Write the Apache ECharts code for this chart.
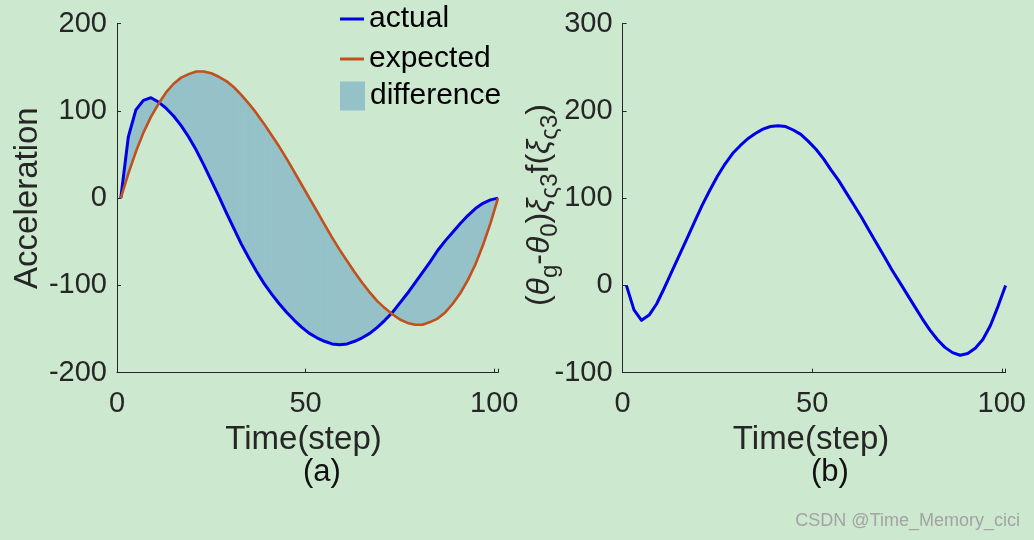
<!DOCTYPE html>
<html>
<head>
<meta charset="utf-8">
<script src="https://cdn.jsdelivr.net/npm/echarts@6/dist/echarts.min.js"></script>
<style>
html,body{margin:0;padding:0;background:#cce8cf;}
#main{width:1034px;height:540px;}
</style>
</head>
<body>
<div id="main"></div>
<script>
// ---- data ----
const steps = [1,3,5,7,9,11,13,15,17,19,21,23,25,27,29,31,33,35,37,39,41,43,45,47,49,51,53,55,57,59,61,63,65,67,69,71,73,75,77,79,81,83,85,87,89,91,93,95,97,99,101];
const actual = [0,70,101,112,115,110,103,94,83,70,55,38,20,2,-17,-35,-53,-69,-84,-98,-110,-121,-131,-140,-148,-155,-160,-164,-167,-168,-167,-164,-160,-155,-148,-140,-131,-120,-109,-97,-85,-73,-60,-49,-39,-29,-20,-12,-6,-2,0];
const expected = [0,28,53,75,93,108,121,131,138,142,145,145,143,139,134,127,118,108,97,85,72,59,45,30,15,0,-15,-30,-45,-59,-72,-85,-97,-108,-118,-126,-133,-139,-143,-145,-145,-142,-138,-131,-121,-109,-94,-76,-54,-29,0];
const termB = [0,-28,-40,-34,-21,-3,16,35,54,73,92,109,125,139,151,160,168,174,179,182,183,182,178,173,165,156,145,132,120,106,92,78,63,48,33,18,4,-10,-24,-38,-51,-62,-71,-77,-80,-78,-72,-62,-46,-24,0];
const xTicksA = [0,50,100];
const yTicksA = [-200,-100,0,100,200];
const yTicksB = [-100,0,100,200,300];

const FONT = "'Liberation Sans', Arial, Helvetica, sans-serif";
const AX = '#262626';
const FILL = '#95c1c8';

const pairs = (ys) => steps.map((x, i) => [x, ys[i]]);
// one quad per step interval between the two curves (built from the arrays above)
const bandQuads = steps.slice(0, -1).map((x, i) =>
  [x, steps[i + 1], actual[i], actual[i + 1], expected[i], expected[i + 1]]);

function xAxisCfg(gi, padR) {
  return {
    type: 'value', gridIndex: gi, min: 0, max: 101, interval: 50,
    name: 'Time(step)', nameLocation: 'middle', nameGap: 44,
    nameTextStyle: { fontSize: 33, color: AX, fontFamily: FONT, padding: [0, padR, 0, 0] },
    axisLine: { show: true, onZero: false, lineStyle: { color: AX, width: 1 } },
    axisTick: { show: true, inside: true, length: 4, lineStyle: { color: AX } },
    axisLabel: { margin: 17, fontSize: 29, color: AX, fontFamily: FONT,
      formatter: v => (xTicksA.indexOf(v) >= 0 ? String(v) : '') },
    splitLine: { show: false }
  };
}
function yAxisCfg(gi, ticks, nm, gap, nts) {
  return {
    type: 'value', gridIndex: gi, min: ticks[0], max: ticks[ticks.length - 1], interval: 100,
    name: nm, nameLocation: 'middle', nameGap: gap, nameTextStyle: nts, nameMoveOverlap: false,
    axisLine: { show: true, onZero: false, lineStyle: { color: AX, width: 1 } },
    axisTick: { show: true, inside: true, length: 4, lineStyle: { color: AX } },
    axisLabel: { margin: 10, fontSize: 29, color: AX, fontFamily: FONT },
    splitLine: { show: false }
  };
}
const lineBase = { type: 'line', symbol: 'none', smooth: false };

const chart = echarts.init(document.getElementById('main'), null, { renderer: 'canvas' });
const legendText = { fontSize: 30, color: '#000', fontFamily: FONT, lineHeight: 34 };
chart.setOption({
  animation: false,
  backgroundColor: '#cce8cf',
  grid: [
    { left: 117, top: 23.5, width: 381, height: 349.2, outerBoundsMode: 'none' },
    { left: 622.6, top: 23.5, width: 383, height: 349.2, outerBoundsMode: 'none' }
  ],
  xAxis: [xAxisCfg(0, 8), xAxisCfg(1, 6)],
  yAxis: [
    yAxisCfg(0, yTicksA, 'Acceleration', 73, { fontSize: 33, color: AX, fontFamily: FONT }),
    yAxisCfg(1, yTicksB,
      '{m|(}{i|θ}{s|g}{m|-}{i|θ}{s|0}{m|)}{i|ξ}{s|ς3}{m|f(}{i|ξ}{s|ς3}{m|)}', 60,
      { color: AX, fontFamily: FONT, padding: [0, 14, 0, 0],
        rich: {
          m: { fontSize: 32, color: AX, fontFamily: FONT, lineHeight: 46, verticalAlign: 'middle' },
          i: { fontSize: 32, color: AX, fontFamily: FONT, fontStyle: 'italic', lineHeight: 46, verticalAlign: 'middle' },
          s: { fontSize: 24, color: AX, fontFamily: FONT, lineHeight: 24, verticalAlign: 'bottom' }
        } })
  ],
  legend: [
    { data: [{ name: 'actual', icon: 'rect' }], left: 340, top: 2, padding: 0, itemWidth: 24, itemHeight: 3, textStyle: legendText, selectedMode: false },
    { data: [{ name: 'expected', icon: 'rect' }], left: 340, top: 42, padding: 0, itemWidth: 24, itemHeight: 3, textStyle: legendText, selectedMode: false },
    { data: [{ name: 'difference', icon: 'rect' }], left: 340, top: 79, padding: 0, itemWidth: 25, itemHeight: 29, textStyle: legendText, selectedMode: false }
  ],
  series: [
    { name: 'difference', type: 'custom', xAxisIndex: 0, yAxisIndex: 0, data: bandQuads,
      encode: { x: [0, 1], y: [2, 3, 4, 5] }, silent: true, z: 1,
      itemStyle: { color: FILL },
      renderItem: function (params, api) {
        const p1 = api.coord([api.value(0), api.value(2)]);
        const p2 = api.coord([api.value(1), api.value(3)]);
        const p3 = api.coord([api.value(1), api.value(5)]);
        const p4 = api.coord([api.value(0), api.value(4)]);
        return { type: 'polygon', shape: { points: [p1, p2, p3, p4] },
          style: { fill: FILL, stroke: FILL, lineWidth: 0.8 } };
      } },
    Object.assign({}, lineBase, { name: 'actual', xAxisIndex: 0, yAxisIndex: 0, data: pairs(actual),
      color: '#0000e6', itemStyle: { color: '#0000e6' },
      lineStyle: { color: '#0000e6', width: 3, join: 'round' }, z: 3 }),
    Object.assign({}, lineBase, { name: 'expected', xAxisIndex: 0, yAxisIndex: 0, data: pairs(expected),
      color: '#c0501c', itemStyle: { color: '#c0501c' },
      lineStyle: { color: '#c0501c', width: 2.6, join: 'round' }, z: 4 }),
    Object.assign({}, lineBase, { name: 'termB', xAxisIndex: 1, yAxisIndex: 1, data: pairs(termB),
      color: '#0000e6', lineStyle: { color: '#0000e6', width: 3, join: 'round' }, z: 3 })
  ],
  graphic: [
    { type: 'text', left: 303, top: 457, style: { text: '(a)', fontSize: 31, fill: '#111', fontFamily: FONT, textAlign: 'center' } },
    { type: 'text', left: 811, top: 457, style: { text: '(b)', fontSize: 31, fill: '#111', fontFamily: FONT, textAlign: 'center' } },
    { type: 'text', right: 14, top: 512, style: { text: 'CSDN @Time_Memory_cici', fontSize: 18, fill: '#a3a3a3', fontFamily: FONT,
      textShadowColor: 'rgba(255,255,255,0.8)', textShadowOffsetX: 1, textShadowOffsetY: 1 } }
  ]
});
</script>
</body>
</html>
